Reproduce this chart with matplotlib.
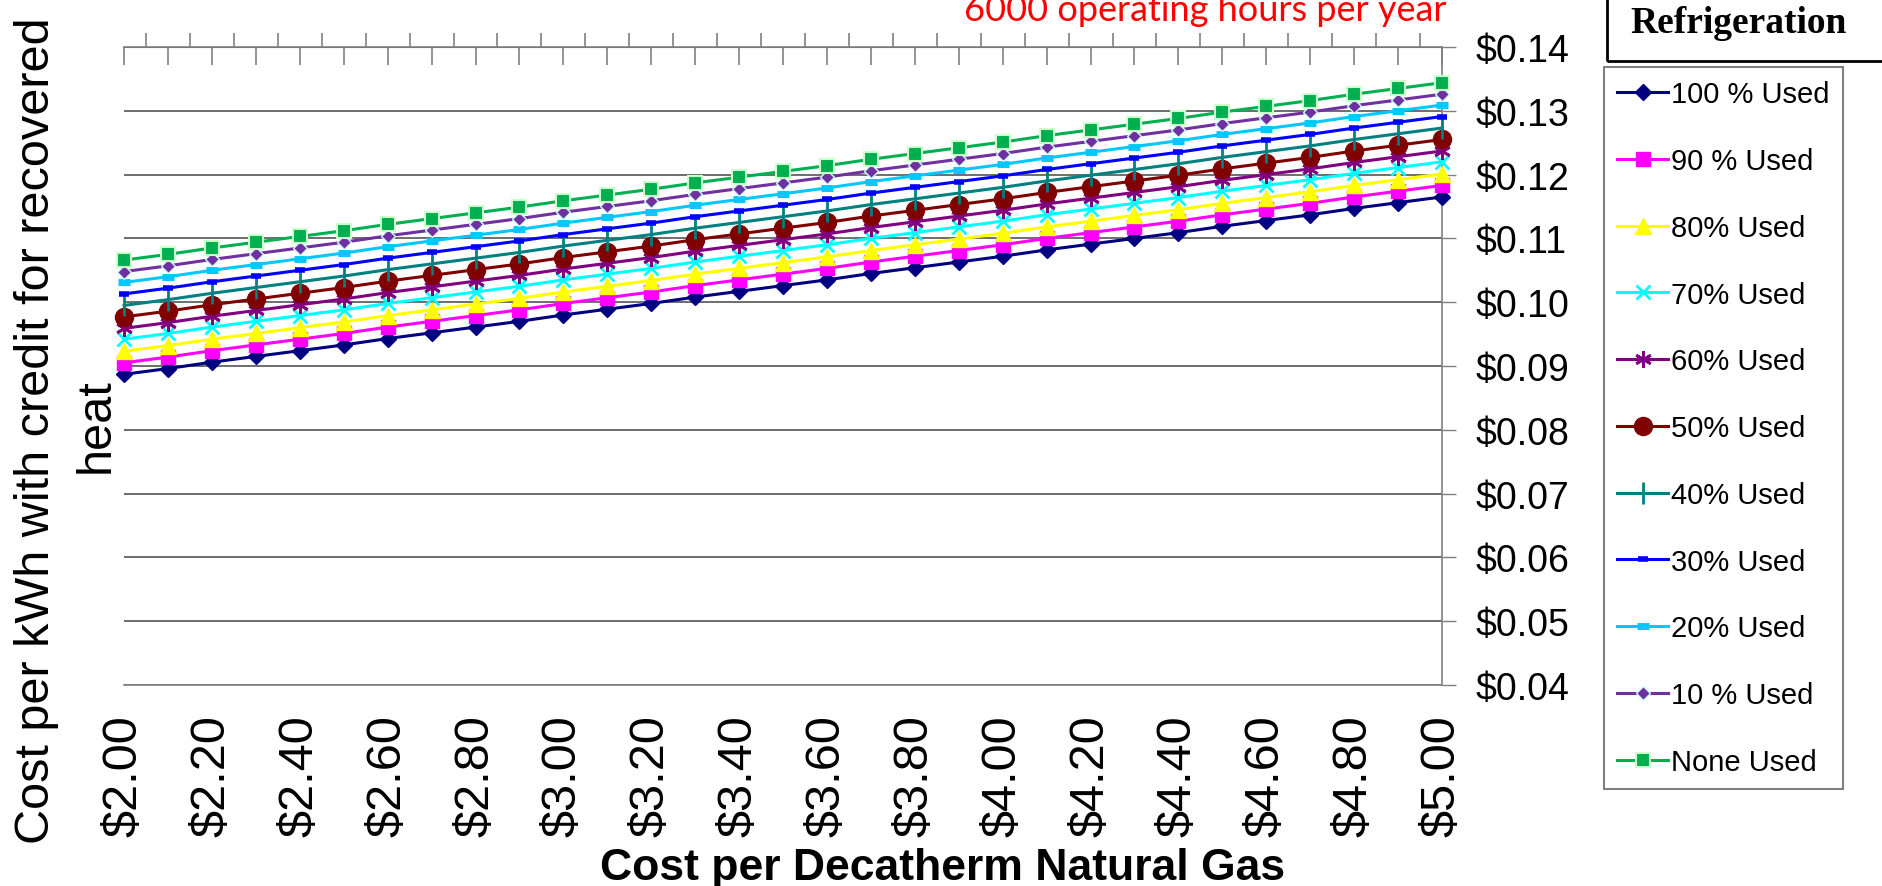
import matplotlib
matplotlib.use("Agg")
import matplotlib.pyplot as plt
import numpy as np
from matplotlib.patches import Rectangle

plt.rcParams['font.family'] = ['Liberation Sans', 'DejaVu Sans']

# gas price, $ per decatherm (one point every $0.10)
gas_price = [2.0, 2.1, 2.2, 2.3, 2.4, 2.5, 2.6, 2.7, 2.8, 2.9, 3.0,
             3.1, 3.2, 3.3, 3.4, 3.5, 3.6, 3.7, 3.8, 3.9, 4.0,
             4.1, 4.2, 4.3, 4.4, 4.5, 4.6, 4.7, 4.8, 4.9, 5.0]

labels = ["100 % Used", "90 % Used", "80% Used", "70% Used", "60% Used", "50% Used",
          "40% Used", "30% Used", "20% Used", "10 % Used", "None Used"]

# cost per kWh
used_100 = [.0887, .0896, .0906, .0915, .0924, .0933, .0943, .0952, .0961, .0970, .0980,
            .0989, .0998, .1008, .1017, .1026, .1035, .1045, .1054, .1063, .1072,
            .1082, .1091, .1100, .1109, .1119, .1128, .1137, .1147, .1156, .1165]
used_90 = [.0905, .0914, .0924, .0933, .0942, .0951, .0961, .0970, .0979, .0988, .0998,
           .1007, .1016, .1026, .1035, .1044, .1053, .1063, .1072, .1081, .1090,
           .1100, .1109, .1118, .1127, .1137, .1146, .1155, .1165, .1174, .1183]
used_80 = [.0923, .0932, .0942, .0951, .0960, .0969, .0979, .0988, .0997, .1006, .1016,
           .1025, .1034, .1044, .1053, .1062, .1071, .1081, .1090, .1099, .1108,
           .1118, .1127, .1136, .1145, .1155, .1164, .1173, .1183, .1192, .1201]
used_70 = [.0942, .0951, .0961, .0970, .0979, .0988, .0998, .1007, .1016, .1025, .1035,
           .1044, .1053, .1063, .1072, .1081, .1090, .1100, .1109, .1118, .1127,
           .1137, .1146, .1155, .1164, .1174, .1183, .1192, .1202, .1211, .1220]
used_60 = [.0959, .0968, .0978, .0987, .0996, .1005, .1015, .1024, .1033, .1042, .1052,
           .1061, .1070, .1080, .1089, .1098, .1107, .1117, .1126, .1135, .1144,
           .1154, .1163, .1172, .1181, .1191, .1200, .1209, .1219, .1228, .1237]
used_50 = [.0977, .0986, .0996, .1005, .1014, .1023, .1033, .1042, .1051, .1060, .1070,
           .1079, .1088, .1098, .1107, .1116, .1125, .1135, .1144, .1153, .1162,
           .1172, .1181, .1190, .1199, .1209, .1218, .1227, .1237, .1246, .1255]
used_40 = [.0995, .1004, .1014, .1023, .1032, .1041, .1051, .1060, .1069, .1078, .1088,
           .1097, .1106, .1116, .1125, .1134, .1143, .1153, .1162, .1171, .1180,
           .1190, .1199, .1208, .1217, .1227, .1236, .1245, .1255, .1264, .1273]
used_30 = [.1013, .1022, .1032, .1041, .1050, .1059, .1069, .1078, .1087, .1096, .1106,
           .1115, .1124, .1134, .1143, .1152, .1161, .1171, .1180, .1189, .1198,
           .1208, .1217, .1226, .1235, .1245, .1254, .1263, .1273, .1282, .1291]
used_20 = [.1031, .1040, .1050, .1059, .1068, .1077, .1087, .1096, .1105, .1114, .1124,
           .1133, .1142, .1152, .1161, .1170, .1179, .1189, .1198, .1207, .1216,
           .1226, .1235, .1244, .1253, .1263, .1272, .1281, .1291, .1300, .1309]
used_10 = [.1048, .1057, .1067, .1076, .1085, .1094, .1104, .1113, .1122, .1131, .1141,
           .1150, .1159, .1169, .1178, .1187, .1196, .1206, .1215, .1224, .1233,
           .1243, .1252, .1261, .1270, .1280, .1289, .1298, .1308, .1317, .1326]
used_none = [.1066, .1075, .1085, .1094, .1103, .1112, .1122, .1131, .1140, .1149, .1159,
             .1168, .1177, .1187, .1196, .1205, .1214, .1224, .1233, .1242, .1251,
             .1261, .1270, .1279, .1288, .1298, .1307, .1316, .1326, .1335, .1344]

series = [used_100, used_90, used_80, used_70, used_60, used_50,
          used_40, used_30, used_20, used_10, used_none]

# styles (Excel-ish)
colors = ['#000080', '#FF00FF', '#FFFF00', '#00FFFF', '#800080', '#800000',
          '#008080', '#0000FF', '#00C8FF', '#7030A0', '#00B050']
markers = ['D', 's', '^', 'x', (6, 2, 0), 'o', '|', '_', '_', 'D', 's']
msizes = [8, 10, 11, 10, 12, 13, 16, 7, 9, 7, 10]
mews = [1, 1, 1, 2, 2, 1, 2, 4, 5, 1, 1.5]
medges = [None, None, None, None, None, None, None, None, None, '#CCFFFF', '#CCFFCC']

fig = plt.figure(figsize=(18.83, 8.87), dpi=100)
ax = fig.add_axes([0.0659, 0.2266, 0.6999, 0.7193])

for vals, lab, c, m, ms, mew, me in zip(series, labels, colors, markers, msizes, mews, medges):
    ax.plot(gas_price, vals, color=c, lw=2.2, marker=m, ms=ms, mew=mew,
            mfc=c, mec=me if me else c, label=lab, clip_on=False, zorder=3)

ax.set_xlim(2.0, 5.0)
ax.set_ylim(0.04, 0.14)

# y axis on the right, money format
ax.yaxis.tick_right()
ax.set_yticks(np.arange(0.04, 0.1401, 0.01))
ax.yaxis.set_major_formatter(plt.FuncFormatter(lambda v, p: '${:.2f}'.format(v)))
ax.tick_params(axis='y', length=10, width=1, color='#808080', pad=14, labelsize=27)
ax.grid(axis='y', color='#555555', lw=1.2)
ax.set_axisbelow(True)

ax.set_xticks(np.arange(2.0, 5.01, 0.2))
ax.xaxis.set_major_formatter(plt.FuncFormatter(lambda v, p: '${:.2f}'.format(v)))
ax.tick_params(axis='x', length=0, pad=21, labelsize=35, labelrotation=90)

ax.spines['left'].set_visible(False)
for s in ['top', 'right', 'bottom']:
    ax.spines[s].set_color('#808080')
    ax.spines[s].set_linewidth(1.2)

# tick marks along the top edge
top = ax.secondary_xaxis('top')
top.set_xticks(np.arange(2.0, 5.01, 0.1))
top.set_xticks(np.arange(2.05, 5.0, 0.1), minor=True)
top.tick_params(which='major', direction='in', length=13, width=1.2, color='#808080', labeltop=False)
top.tick_params(which='minor', direction='out', length=10, width=1.2, color='#808080')
top.spines['top'].set_color('#808080')

# y label, two lines written separately
fig.text(0.0195, 0.514, "Cost per kWh with credit for recovered", rotation=90,
         ha='center', va='center', fontsize=35)
fig.text(0.051, 0.52, "heat", rotation=90, ha='center', va='center', fontsize=35)
fig.text(0.5008, 0.021, "Cost per Decatherm Natural Gas", ha='center', va='center',
         fontsize=32, fontweight='bold')
fig.text(0.64, 0.976, "6000 operating hours per year", ha='center', va='baseline',
         fontsize=26, color='red', family=['Lato', 'DejaVu Sans'])

# legend title box
fig.patches.append(Rectangle((0.8534, 0.9301), 0.2, 0.1, transform=fig.transFigure,
                             fill=False, edgecolor='black', lw=2))
fig.text(0.9235, 0.973, "Refrigeration", ha='center', va='center', fontsize=27,
         fontweight='bold', family=['Liberation Serif', 'DejaVu Serif'])

leg = fig.legend(loc='upper left', bbox_to_anchor=(1604 / 1883, 1 - 68 / 887),
                 fontsize=21, frameon=True, fancybox=False, edgecolor='#808080',
                 framealpha=1, borderaxespad=0, borderpad=0.45, handlelength=1.75,
                 handletextpad=0.1, labelspacing=1.33)
leg.get_frame().set_linewidth(1.5)

fig.savefig("out.png", dpi=100)
